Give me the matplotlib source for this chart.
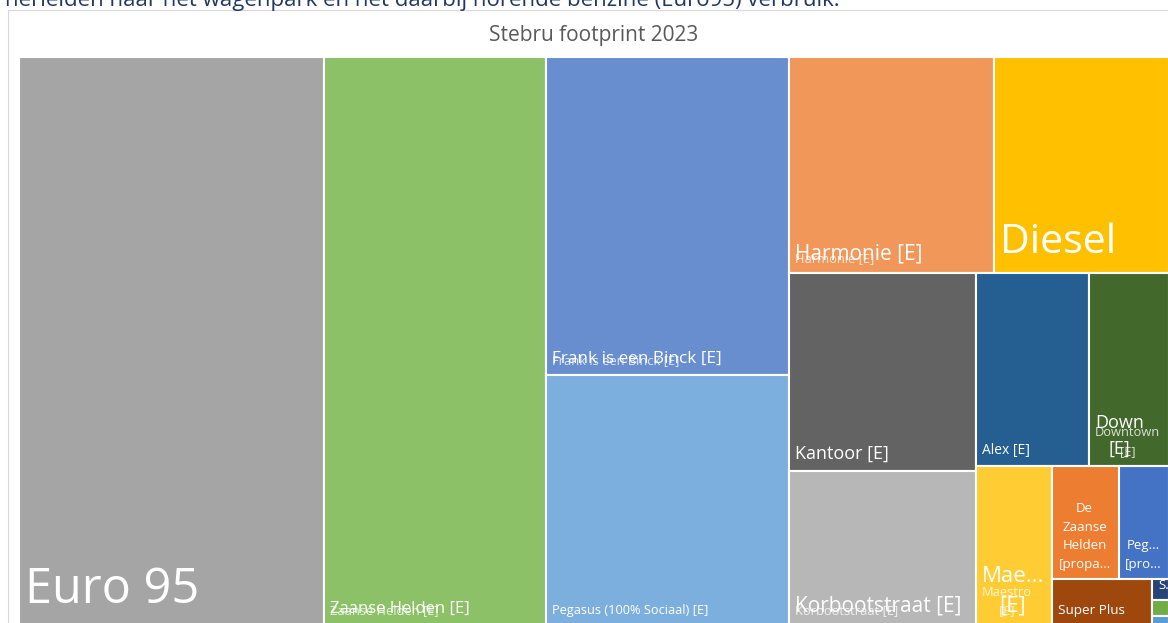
import matplotlib
matplotlib.use("Agg")
import matplotlib.pyplot as plt
from matplotlib.patches import Rectangle
from matplotlib.lines import Line2D
from matplotlib.transforms import Bbox, TransformedBbox

plt.rcParams['font.family'] = ['Open Sans', 'DejaVu Sans']

# --- data (relatieve uitstoot, aflopend) ---
titel = "Stebru footprint 2023"
tekst_boven = "herleiden naar het wagenpark en het daarbij horende benzine (Euro95) verbruik."

categorieen = ["Euro 95", "Zaanse Helden [E]", "Frank is een Binck [E]",
               "Pegasus (100% Sociaal) [E]", "Harmonie [E]", "Diesel", "Kantoor [E]",
               "Korbootstraat [E]", "Alex [E]", "Downtown [E]", "Maestro [E]",
               "De Zaanse Helden [propaan]", "Pegasus [propaan]", "Super Plus",
               "Stadswerf [E]", "Overig [E]", "Overig [propaan]"]
uitstoot = [173.2, 126.1, 77.3, 60.8, 44.3, 37.8, 37.0, 28.8, 21.8, 15.4, 12.2,
            7.5, 5.7, 4.6, 0.36, 0.27, 0.15]

# labels zoals Excel ze toont (afgekapt / afgebroken)
labels = ["Euro 95", "Zaanse Helden [E]", "Frank is een Binck [E]",
          "Pegasus (100% Sociaal) [E]", "Harmonie [E]", "Diesel", "Kantoor [E]",
          "Korbootstraat [E]", "Alex [E]", "Down\n[E]", "Mae...\n[E]",
          "De\nZaanse\nHelden\n[propa...", "Peg...\n[pro...", "Super Plus", "S...", "", ""]
# tweede (blad)label dat eroverheen staat
labels_blad = [None, "Zaanse Helden [E]", "Frank is een Binck [E]", None, "Harmonie [E]",
               None, None, "Korbootstraat [E]", None, "Downtown\n[E]", "Maestro\n[E]",
               None, None, None, None, None, None]

# --- stijl ---
kleuren = ['#A5A5A5', '#8CC168', '#698ED0', '#7CAFDD', '#F1975A', '#FFC000', '#636363',
           '#B7B7B7', '#255E91', '#43682B', '#FFCD33', '#ED7D31', '#4472C4', '#9E480E',
           '#264478', '#70AD47', '#5B9BD5']
label_pt = [35, 12, 12.3, 9.2, 15, 29.5, 13, 15, 10, 13, 16, 9.5, 9.5, 9.7, 9.5, 9, 9]
blad_pt = 9.3

W_PX, H_PX, DPI = 1168, 623, 100


def squarify(waarden, x, y, w, h, weging=1.4):
    # waarden: oppervlakken (geschaald op w*h), aflopend gesorteerd
    rects = []
    i = 0
    while i < len(waarden):
        kolom = w >= h
        lengte = h if kolom else w

        def slechtste(strook):
            dikte = sum(strook) / lengte
            ratios = []
            for a in strook:
                stuk = a / dikte
                bw, bh = (dikte, stuk) if kolom else (stuk, dikte)
                r = bw * weging / bh
                ratios.append(max(r, 1 / r))
            return max(ratios)

        strook = [waarden[i]]
        i += 1
        while i < len(waarden) and slechtste(strook + [waarden[i]]) <= slechtste(strook):
            strook.append(waarden[i])
            i += 1
        dikte = sum(strook) / lengte
        pos = y if kolom else x
        for a in strook:
            stuk = a / dikte
            rects.append((x, pos, dikte, stuk) if kolom else (pos, y, stuk, dikte))
            pos += stuk
        if kolom:
            x += dikte
            w -= dikte
        else:
            y += dikte
            h -= dikte
    return rects


fig = plt.figure(figsize=(W_PX / DPI, H_PX / DPI), dpi=DPI)
fig.patch.set_facecolor('white')

# documenttekst boven de grafiek (afgesneden)
fig.text(5 / W_PX, 1 - 6 / H_PX, tekst_boven, fontsize=16, color='#1F3864', va='baseline', ha='left')

# kader van het grafiekgebied
fig.add_artist(Line2D([8 / W_PX, 8 / W_PX], [0, 1 - 10 / H_PX], color='#D9D9D9', lw=0.8,
                      transform=fig.transFigure))
fig.add_artist(Line2D([8 / W_PX, 1], [1 - 10 / H_PX, 1 - 10 / H_PX], color='#D9D9D9', lw=0.8,
                      transform=fig.transFigure))

fig.text(594 / W_PX, 1 - 35 / H_PX, titel, fontsize=15, color='#595959', ha='center', va='center')

# plotgebied in pixels
L, T, R, B = 19, 57, 1169, 625
ax = fig.add_axes([L / W_PX, 1 - B / H_PX, (R - L) / W_PX, (B - T) / H_PX])
ax.set_xlim(0, R - L)
ax.set_ylim(B - T, 0)
ax.axis('off')

volgorde = sorted(range(len(uitstoot)), key=lambda k: -uitstoot[k])
schaal = (R - L) * (B - T) / sum(uitstoot)
rects = squarify([uitstoot[k] * schaal for k in volgorde], 0, 0, R - L, B - T)

for k, (x, y, w, h) in zip(volgorde, rects):
    ax.add_patch(Rectangle((x, y), w, h, facecolor=kleuren[k], edgecolor='white', lw=1.5))
    clip = TransformedBbox(Bbox.from_bounds(x, y, w, h), ax.transData)
    teksten = [(labels[k], label_pt[k], 1.0)]
    if labels_blad[k]:
        teksten.append((labels_blad[k], blad_pt, 0.8))
    for txt, pt, alpha in teksten:
        if not txt:
            continue
        dy = 5.1 + 0.06 * pt
        t = ax.annotate(txt, xy=(x, y + h), xytext=(4.3, dy), textcoords='offset points',
                        ha='left', va='bottom', multialignment='center', color='white',
                        alpha=alpha, fontsize=pt, linespacing=1.55, annotation_clip=False)
        t.set_clip_box(clip)
        t.set_clip_on(True)

fig.savefig('out.png', dpi=DPI)
